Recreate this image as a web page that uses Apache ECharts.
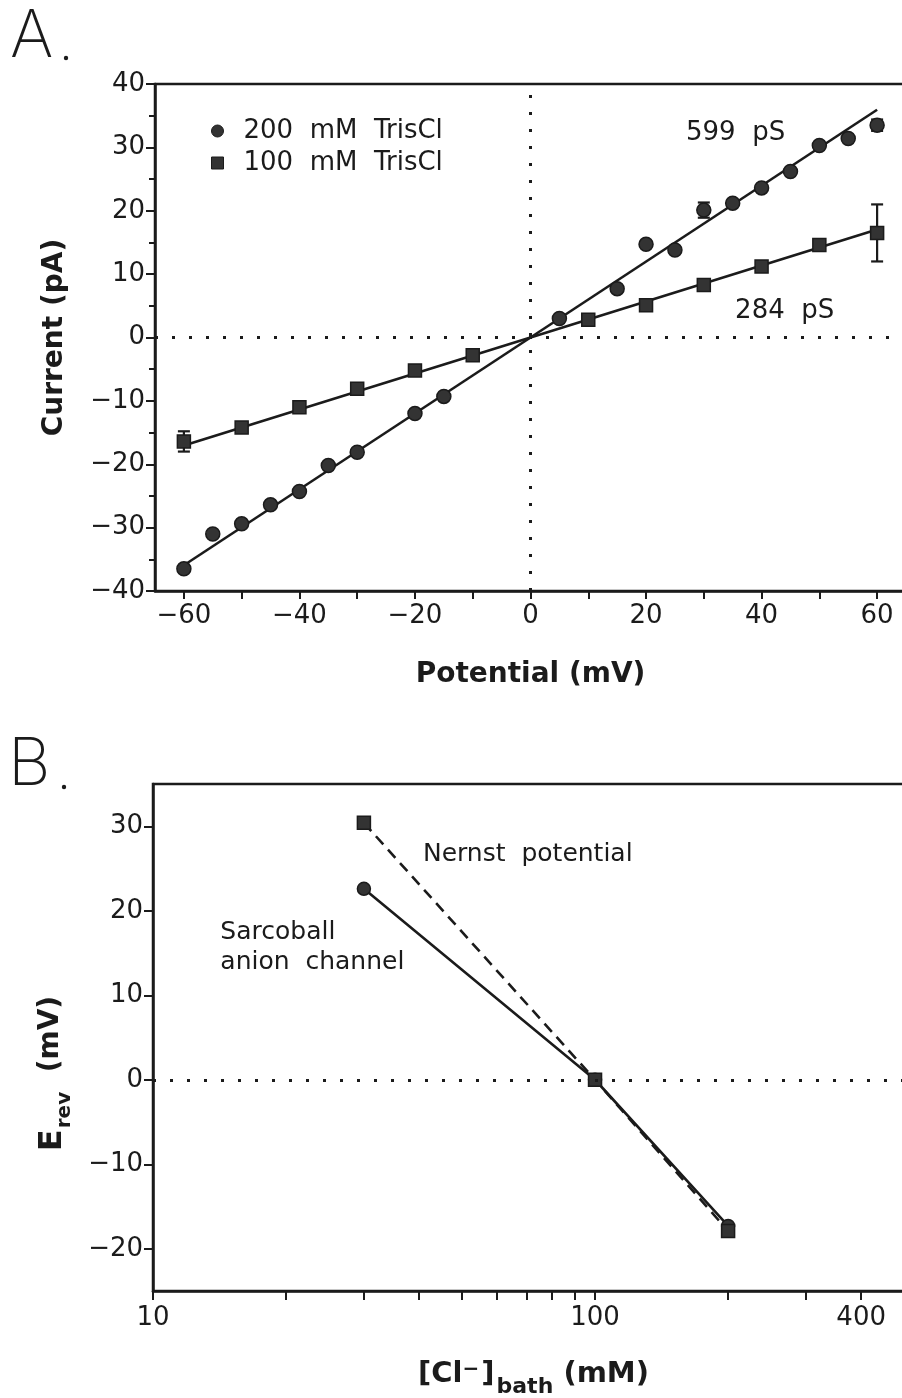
<!DOCTYPE html>
<html>
<head>
<meta charset="utf-8">
<script src="https://cdn.jsdelivr.net/npm/echarts@6/dist/echarts.min.js"></script>
<style>
  html, body { margin: 0; padding: 0; background: #ffffff; }
  #chart { width: 902px; height: 1398px; }
</style>
</head>
<body>
<div id="chart"></div>
<script>
// ---- Panel A: current–voltage relation at two TrisCl concentrations ----
const potential200 = [-60, -55, -50, -45, -40, -35, -30, -20, -15, 5, 15, 20, 25, 30, 35, 40, 45, 50, 55, 60];
const current200   = [-36.5, -31.0, -29.4, -26.4, -24.3, -20.2, -18.1, -12.0, -9.3, 3.0, 7.7, 14.7, 13.8, 20.1, 21.2, 23.6, 26.2, 30.3, 31.4, 33.5];
const error200     = [0, 0, 0, 0, 0, 0, 0, 0, 0, 0, 0, 0, 0, 1.2, 0, 0, 0, 0, 0, 0.9];

const potential100 = [-60, -50, -40, -30, -20, -10, 10, 20, 30, 40, 50, 60];
const current100   = [-16.4, -14.2, -11.0, -8.1, -5.2, -2.8, 2.8, 5.1, 8.3, 11.2, 14.6, 16.5];
const error100     = [1.6, 0, 0, 0, 0, 0, 0, 0, 0, 0, 0, 4.5];

const seriesNamesA = ['200  mM  TrisCl', '100  mM  TrisCl'];
const conductancePS = [599, 284];          // slope conductance of each fitted line
const fitSpanMV = [-60, 60];
const conductanceLabels = ['599  pS', '284  pS'];
const conductanceLabelAt = [[35.5, 32.3], [44, 4.2]];

const xTicksA  = [-60, -50, -40, -30, -20, -10, 0, 10, 20, 30, 40, 50, 60];
const xLabelsA = [-60, -40, -20, 0, 20, 40, 60];

// ---- Panel B: reversal potential versus bath chloride ----
const clBath      = [30, 100, 200];
const erevChannel = [22.6, 0, -17.3];
const erevNernst  = [30.4, 0, -17.9];
const notesB      = ['Nernst  potential', 'Sarcoball\nanion  channel'];
const notesBAt    = [[40.8, 26.6], [14.2, 15.7]];

const xTicksB  = [10, 20, 30, 40, 50, 60, 70, 80, 90, 100, 200, 300, 400];
const xLabelsB = [10, 100, 400];
const yMajorB  = [-20, -10, 0, 10, 20, 30];
const yMinorB  = [-15, -5, 5, 15, 25];

// ---- styling ----
const ink = '#1b1b1b';
const markFill = '#333333';
const FONT = 'DejaVu Sans';
const minusSign = v => String(v).replace('-', '\u2212');

function fitLine(g) {
  // I (pA) = g (pS) * V (mV) / 1000
  return fitSpanMV.map(v => [v, g * v / 1000]);
}
function errorData(xs, ys, es) {
  return xs.map((x, i) => [x, ys[i], es[i]]).filter(d => d[2] > 0);
}
function errorBarRender(params, api) {
  const x = api.value(0), y = api.value(1), e = api.value(2);
  const hi = api.coord([x, y + e]);
  const lo = api.coord([x, y - e]);
  const cap = 6;
  const st = { stroke: ink, lineWidth: 2.2 };
  return {
    type: 'group',
    children: [
      { type: 'line', shape: { x1: hi[0], y1: hi[1], x2: lo[0], y2: lo[1] }, style: st },
      { type: 'line', shape: { x1: hi[0] - cap, y1: hi[1], x2: hi[0] + cap, y2: hi[1] }, style: st },
      { type: 'line', shape: { x1: lo[0] - cap, y1: lo[1], x2: lo[0] + cap, y2: lo[1] }, style: st }
    ]
  };
}

const axisLineStyle = { color: ink, width: 2.5 };
const tickStyle = { color: ink, width: 2 };
const labelStyle = { color: ink, fontSize: 26, fontFamily: FONT };
const titleStyle = { color: ink, fontSize: 28, fontWeight: 'bold', fontFamily: FONT };
const dotted = { color: ink, width: 3, type: [3, 14] };
const noteLabel = { color: ink, fontSize: 26, fontFamily: FONT, opacity: 1 };

const chart = echarts.init(document.getElementById('chart'), null, { renderer: 'canvas' });

const option = {
  animation: false,
  backgroundColor: '#ffffff',
  textStyle: { fontFamily: FONT, color: ink },
  grid: [
    { left: 155, top: 84, width: 751, height: 507, outerBoundsMode: 'none', containLabel: false,
      show: true, borderColor: ink, borderWidth: 2.5, backgroundColor: 'transparent' },
    { left: 153, top: 784, width: 751, height: 507, outerBoundsMode: 'none', containLabel: false,
      show: true, borderColor: ink, borderWidth: 2.5, backgroundColor: 'transparent' }
  ],
  legend: {
    data: [
      { name: seriesNamesA[0], icon: 'circle' },
      { name: seriesNamesA[1], icon: 'rect' }
    ],
    orient: 'vertical',
    left: 206,
    top: 111,
    itemWidth: 12,
    itemHeight: 12,
    itemGap: 2,
    selectedMode: false,
    itemStyle: { color: markFill, borderColor: ink, borderWidth: 1, opacity: 1 },
    textStyle: { color: ink, fontSize: 26, fontFamily: FONT, padding: [0, 0, 0, 15], lineHeight: 30 }
  },
  xAxis: [
    {
      gridIndex: 0, type: 'value', min: -65, max: 65,
      axisLine: { show: true, onZero: false, lineStyle: axisLineStyle },
      axisTick: { show: true, customValues: xTicksA, length: 8, lineStyle: tickStyle },
      axisLabel: { customValues: xLabelsA, formatter: minusSign, margin: 12, ...labelStyle },
      splitLine: { show: false },
      name: 'Potential (mV)', nameLocation: 'middle', nameGap: 70, nameTextStyle: titleStyle
    },
    {
      gridIndex: 1, type: 'log', logBase: 10, min: 10, max: 500,
      axisLine: { show: true, onZero: false, lineStyle: axisLineStyle },
      axisTick: { show: true, customValues: xTicksB, length: 9, lineStyle: tickStyle },
      axisLabel: { customValues: xLabelsB, margin: 14, ...labelStyle },
      splitLine: { show: false }, minorTick: { show: false },
      name: '{b|[Cl}{sup|\u2212}{b|]}{sub|bath}{b| (mM)}',
      nameLocation: 'middle', nameGap: 69,
      nameTextStyle: {
        padding: [0, 0, 0, 10],
        rich: {
          b: { fontSize: 29, fontWeight: 'bold', fontFamily: FONT, color: ink, lineHeight: 34, verticalAlign: 'top' },
          sub: { fontSize: 22, fontWeight: 'bold', fontFamily: FONT, color: ink, lineHeight: 22, padding: [16, 0, 0, 2], verticalAlign: 'top' },
          sup: { fontSize: 20, fontWeight: 'bold', fontFamily: FONT, color: ink, lineHeight: 20, padding: [0, 2, 18, 0], verticalAlign: 'top' }
        }
      }
    }
  ],
  yAxis: [
    {
      gridIndex: 0, type: 'value', min: -40, max: 40, interval: 10,
      axisLine: { show: true, onZero: false, lineStyle: axisLineStyle },
      axisTick: { show: true, length: 9, lineStyle: tickStyle },
      minorTick: { show: true, splitNumber: 2, length: 6, lineStyle: tickStyle },
      axisLabel: { formatter: minusSign, margin: 10, ...labelStyle },
      splitLine: { show: false }, minorSplitLine: { show: false },
      name: 'Current (pA)', nameLocation: 'middle', nameGap: 86, nameTextStyle: titleStyle
    },
    {
      gridIndex: 1, type: 'value', min: -25, max: 35,
      axisLine: { show: true, onZero: false, lineStyle: axisLineStyle },
      axisTick: { show: true, customValues: yMajorB, length: 9, lineStyle: tickStyle },
      axisLabel: { customValues: yMajorB, formatter: minusSign, margin: 10, ...labelStyle },
      splitLine: { show: false },
      name: '{e|E}{sub|rev}{b|  (mV)}',
      nameLocation: 'middle', nameGap: 82,
      nameTextStyle: {
        padding: [0, 72, 0, 0],
        rich: {
          e: { fontSize: 32, fontWeight: 'bold', fontFamily: FONT, color: ink, lineHeight: 34, verticalAlign: 'top' },
          b: { fontSize: 28, fontWeight: 'bold', fontFamily: FONT, color: ink, lineHeight: 34, verticalAlign: 'top' },
          sub: { fontSize: 20, fontWeight: 'bold', fontFamily: FONT, color: ink, lineHeight: 20, padding: [18, 0, 0, 1], verticalAlign: 'top' }
        }
      }
    },
    {
      // shorter ticks at the odd multiples of 5
      gridIndex: 1, type: 'value', min: -25, max: 35,
      axisLine: { show: false },
      axisTick: { show: true, customValues: yMinorB, length: 6, lineStyle: tickStyle },
      axisLabel: { show: false },
      splitLine: { show: false }
    }
  ],
  series: [
    {
      name: 'fit 200', type: 'line', xAxisIndex: 0, yAxisIndex: 0,
      data: fitLine(conductancePS[0]), symbol: 'none', silent: true,
      lineStyle: { color: ink, width: 2.6 },
      markLine: {
        silent: true, symbol: 'none', label: { show: false },
        lineStyle: dotted,
        data: [{ yAxis: 0 }, { xAxis: 0 }]
      },
      z: 2
    },
    {
      name: 'fit 100', type: 'line', xAxisIndex: 0, yAxisIndex: 0,
      data: fitLine(conductancePS[1]), symbol: 'none', silent: true,
      lineStyle: { color: ink, width: 2.6 }, z: 2
    },
    {
      name: 'err 200', type: 'custom', xAxisIndex: 0, yAxisIndex: 0,
      data: errorData(potential200, current200, error200), renderItem: errorBarRender, z: 3, silent: true
    },
    {
      name: 'err 100', type: 'custom', xAxisIndex: 0, yAxisIndex: 0,
      data: errorData(potential100, current100, error100), renderItem: errorBarRender, z: 3, silent: true
    },
    {
      name: seriesNamesA[0], type: 'scatter', xAxisIndex: 0, yAxisIndex: 0,
      data: potential200.map((v, i) => [v, current200[i]]),
      symbol: 'circle', symbolSize: 14,
      itemStyle: { color: markFill, borderColor: ink, borderWidth: 1.5, opacity: 1 }, z: 4
    },
    {
      name: seriesNamesA[1], type: 'scatter', xAxisIndex: 0, yAxisIndex: 0,
      data: potential100.map((v, i) => [v, current100[i]]),
      symbol: 'rect', symbolSize: 13,
      itemStyle: { color: markFill, borderColor: ink, borderWidth: 1.5, opacity: 1 }, z: 4
    },
    {
      name: 'conductance labels', type: 'scatter', xAxisIndex: 0, yAxisIndex: 0,
      data: conductanceLabelAt.map((p, i) => ({ value: p, name: conductanceLabels[i] })),
      symbolSize: 0, silent: true,
      itemStyle: { opacity: 1 },
      label: { show: true, position: 'inside', formatter: '{b}', ...noteLabel }
    },
    // Panel B
    {
      name: 'Nernst', type: 'line', xAxisIndex: 1, yAxisIndex: 1,
      data: clBath.map((c, i) => [c, erevNernst[i]]),
      symbol: 'rect', symbolSize: 13, showAllSymbol: true,
      lineStyle: { color: ink, width: 2.6, type: [11, 7] },
      itemStyle: { color: markFill, borderColor: ink, borderWidth: 1.5 },
      markLine: {
        silent: true, symbol: 'none', label: { show: false },
        lineStyle: dotted,
        data: [{ yAxis: 0 }]
      },
      z: 4
    },
    {
      name: 'channel', type: 'line', xAxisIndex: 1, yAxisIndex: 1,
      data: clBath.map((c, i) => [c, erevChannel[i]]),
      symbol: 'circle', symbolSize: 13, showAllSymbol: true,
      lineStyle: { color: ink, width: 2.6 },
      itemStyle: { color: markFill, borderColor: ink, borderWidth: 1.5 },
      z: 3
    },
    {
      name: 'notes B', type: 'scatter', xAxisIndex: 1, yAxisIndex: 1,
      data: notesBAt.map((p, i) => ({ value: p, name: notesB[i] })),
      symbolSize: 0, silent: true,
      itemStyle: { opacity: 1 },
      label: { show: true, position: 'right', distance: 0, formatter: '{b}', lineHeight: 30, align: 'left', ...noteLabel, fontSize: 25 }
    }
  ],
  graphic: [
    { type: 'text', left: 10, top: 4, style: { text: 'A', font: '200 66px Inter', fill: ink } },
    { type: 'circle', shape: { cx: 66, cy: 58, r: 2.2 }, style: { fill: ink } },
    { type: 'text', left: 8, top: 732, style: { text: 'B', font: '200 66px Inter', fill: ink } },
    { type: 'circle', shape: { cx: 64, cy: 787, r: 2.2 }, style: { fill: ink } }
  ]
};

chart.setOption(option);
</script>
</body>
</html>
